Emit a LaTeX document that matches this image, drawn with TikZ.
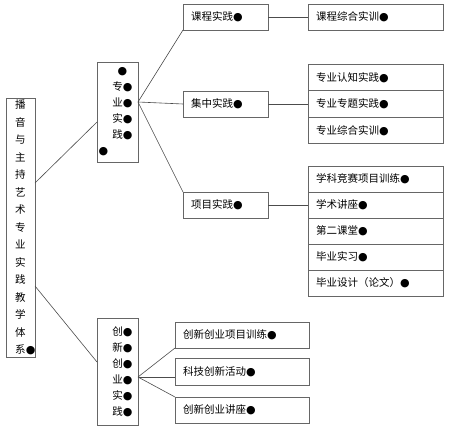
\documentclass[tikz,border=0pt]{standalone}
\usepackage{fontspec}
\usetikzlibrary{positioning}
\newfontfamily\cjk{Noto Sans CJK SC}
\newfontfamily\djv{DejaVu Sans}
\newcommand{\blob}{{\djv\fontsize{11}{11}\selectfont ●}}
\tikzset{
    frame/.style={
        rectangle, draw=black!60, line width=0.8pt,
        fill=white, anchor=north west, outer sep=0pt,
        inner xsep=8pt, inner ysep=0pt,
        text width=#1, align=left,
        minimum height=26pt,
    },
    column/.style={
        rectangle, draw=black!60, line width=0.8pt,
        fill=white, anchor=north west, outer sep=0pt,
        inner sep=0pt, text width=10.5pt, align=center,
        font=\cjk\fontsize{10.5}{#1}\selectfont,
    },
    line/.style={
        draw=black!70, line width=0.6pt,
    },
}
\begin{document}
\begin{tikzpicture}[x=1pt,y=1pt,font=\cjk\fontsize{10.5}{12}\selectfont]
                \useasboundingbox (0,0) rectangle (450,-428);
                % left column
                \node [column=17.5pt, minimum width=29pt, minimum height=259pt] (system) at (6,-98)
                {播\\音\\与\\主\\持\\艺\\术\\专\\业\\实\\践\\教\\学\\体\\系\rlap{\blob}};
                \node [column=16pt, minimum width=41pt, minimum height=100pt] (major) at (97,-62)
                {\rlap{\blob}\\专\rlap{\blob}\\业\rlap{\blob}\\实\rlap{\blob}\\践\rlap{\blob}\\\llap{\blob\hspace{4pt}}};
                \node [column=16pt, minimum width=41pt, minimum height=107pt] (innov) at (97,-318)
                {创\rlap{\blob}\\新\rlap{\blob}\\创\rlap{\blob}\\业\rlap{\blob}\\实\rlap{\blob}\\践\rlap{\blob}};
                % middle column
                \node [frame=69pt] (course) at (183,-4) {课程实践\blob};
                \node [frame=69pt] (intensive) at (183,-91) {集中实践\blob};
                \node [frame=69pt] (project) at (183,-192) {项目实践\blob};
                \node [frame=118pt] (innovTrain) at (175,-322) {创新创业项目训练\blob};
                \node [frame=118pt, minimum height=27pt] (techAct) at (175,-358) {科技创新活动\blob};
                \node [frame=118pt] (innovLect) at (175,-397) {创新创业讲座\blob};
                % right column
                \node [frame=119pt] (courseTrain) at (308,-4) {课程综合实训\blob};
                \node [frame=119pt, minimum height=26.5pt] (cognition) at (308,-64) {专业认知实践\blob};
                \node [frame=119pt, minimum height=26.5pt, below=0pt of cognition] (topic) {专业专题实践\blob};
                \node [frame=119pt, minimum height=26.5pt, below=0pt of topic] (compTrain) {专业综合实训\blob};
                \node [frame=119pt] (contest) at (308,-166) {学科竞赛项目训练\blob};
                \node [frame=119pt, below=0pt of contest] (lecture) {学术讲座\blob};
                \node [frame=119pt, below=0pt of lecture] (second) {第二课堂\blob};
                \node [frame=119pt, below=0pt of second] (intern) {毕业实习\blob};
                \node [frame=119pt, below=0pt of intern] (thesis) {毕业设计（论文）\blob};
                % connectors
                \coordinate[above=44.5pt of system.east] (SU);
                \coordinate[below=58.5pt of system.east] (SD);
                \coordinate[below=10pt of major.west] (MW);
                \coordinate[above=10pt of major.east] (ME);
                \coordinate[above=9.5pt of innov.west] (IW);
                \coordinate[below=5.5pt of innov.east] (IE);
                \draw[line] (SU) -- (MW);
                \draw[line] (SD) -- (IW);
                \draw[line] (ME) -- (course.south west);
                \draw[line] (ME) -- (intensive.west);
                \draw[line] (ME) -- (project.north west);
                \draw[line] (course) -- (courseTrain);
                \draw[line] (intensive.east) -- (intensive.east -| topic.west);
                \draw[line] (project.east) -- (project.east -| lecture.west);
                \draw[line] (IE) -- (innovTrain.south west);
                \draw[line] (IE) -- (IE -| techAct.west);
                \draw[line] (IE) -- (innovLect.north west);
            \end{tikzpicture}
\end{document}
